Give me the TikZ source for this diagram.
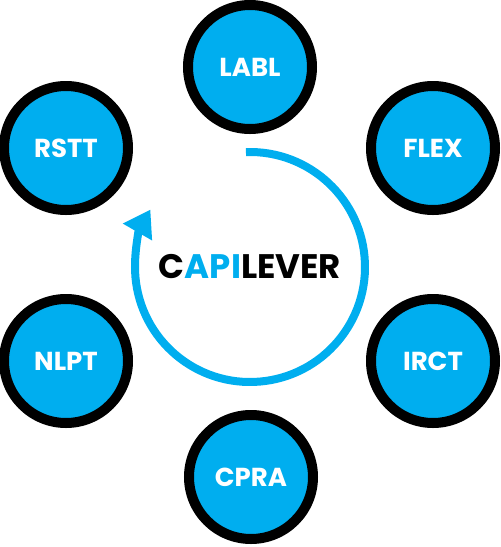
\documentclass[tikz,border=0pt]{standalone}
\usepackage{fontspec}
\setmainfont{Poppins}
\usetikzlibrary{arrows.meta}
\definecolor{capblue}{RGB}{0,174,239}
\begin{document}
\begin{tikzpicture}[x=1pt,y=-1pt,
  bubble/.style={circle,draw=black,line width=10pt,fill=capblue,minimum size=124pt,inner sep=0pt,
    text=white,font=\fontsize{26}{26}\selectfont\bfseries},
  cyc/.style={draw=capblue,line width=8pt}]
\useasboundingbox (0,0) rectangle (501,547);
\node[bubble] (labl) at (250,67) {LABL};
\node[bubble] (rstt) at (66,148) {RSTT};
\node[bubble] (flex) at (433,148) {FLEX};
\node[bubble] (nlpt) at (66,361) {NLPT};
\node[bubble] (irct) at (433,361) {IRCT};
\node[bubble] (cpra) at (251,477) {CPRA};
\coordinate (hub) at (250,267);
\node[font=\fontsize{34}{34}\selectfont\bfseries] (title) at (hub) {C\textcolor{capblue}{API}LEVER};
\draw[cyc,-{Triangle[length=26pt,width=32pt]}] ([shift={(-92:115)}]hub) arc[start angle=-92,end angle=210,radius=115];
\end{tikzpicture}
\end{document}
